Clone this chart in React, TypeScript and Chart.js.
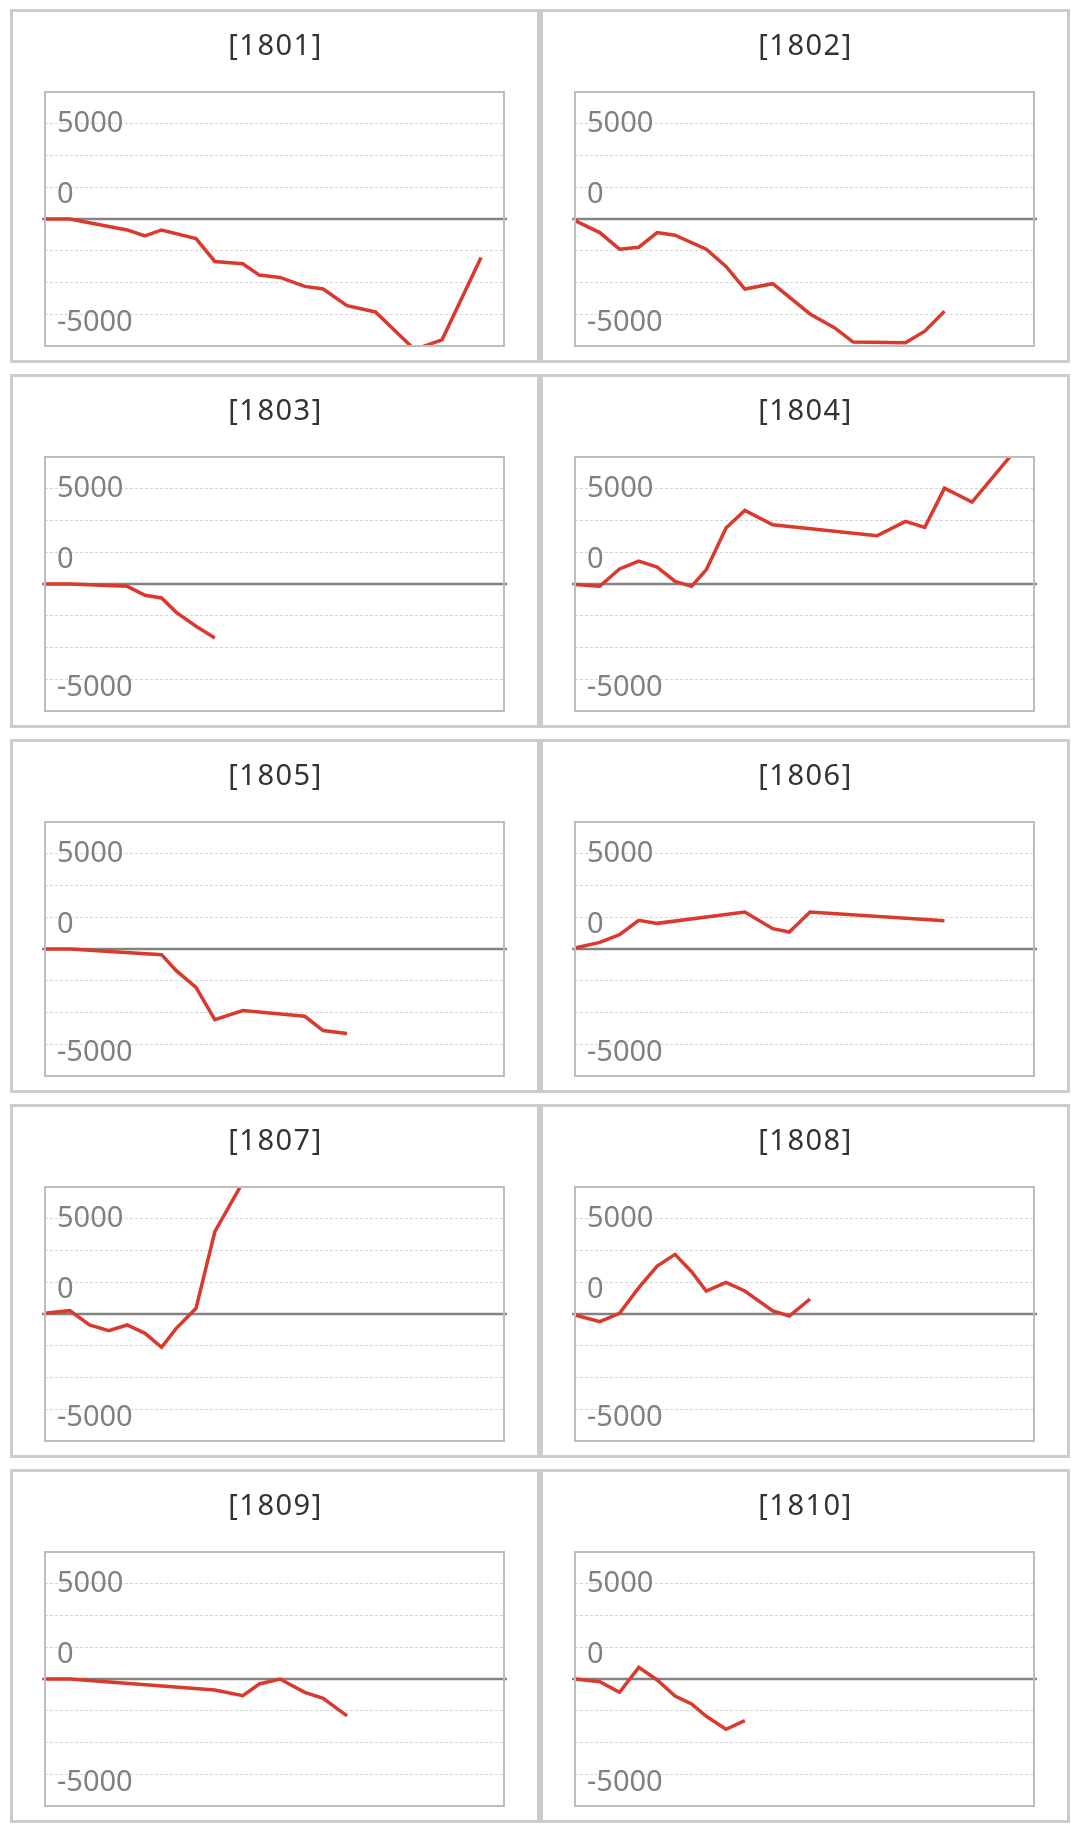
import { useEffect, useRef } from "react"
import { Chart, type ChartConfiguration, type Plugin, registerables } from "chart.js"

Chart.register(...registerables)

// shared time axis (position of each observation along the period, 0..100)
const timeline = [0, 5.4, 9.7, 13.9, 17.9, 21.8, 25.4, 28.6, 32.9, 37.0, 43.1, 46.7, 51.2, 56.6, 60.6, 65.8, 72.0, 76.2, 80.5, 86.5, 95.0]

const panelTitles = ["[1801]", "[1802]", "[1803]", "[1804]", "[1805]", "[1806]", "[1807]", "[1808]", "[1809]", "[1810]"]

const series1801 = [0, 0, null, null, -575, -888, -575, null, -1028, -2230, -2352, -2944, -3066, -3537, -3676, -4547, -4878, null, -6850, -6341, -2021]
const series1802 = [-87, -714, -1585, -1481, -714, -854, null, -1585, -2491, -3676, -3397, null, -4983, -5714, -6463, null, -6500, -5889, -4843]
const series1803 = [0, 0, null, null, -122, -594, -734, -1486, -2220, -2832]
const series1804 = [-30, -122, 787, 1206, 891, 140, -122, 752, 2937, 3863, 3111, null, null, null, null, 2535, 3286, 2972, 5034, 4300, 6750]
const series1805 = [0, 0, null, null, null, null, -297, -1136, -2010, -3706, -3234, null, null, -3531, -4283, -4440]
const series1806 = [52, 350, 752, 1503, 1346, null, null, null, null, 1940, 1066, 891, 1940, null, null, null, null, null, 1486]
const series1807 = [35, 175, -577, -874, -577, -1014, -1748, -752, 297, 4318, 6920]
const series1808 = [-52, -402, 35, 1381, 2517, 3129, 2220, 1206, 1661, 1206, 157, -105, 787]
const series1809 = [0, 0, null, null, null, null, null, null, null, -577, -874, -262, 0, -699, -1014, -1940]
const series1810 = [0, -140, -699, 612, -52, -891, -1311, -1958, -2639, -2185]

const allSeries = [series1801, series1802, series1803, series1804, series1805, series1806, series1807, series1808, series1809, series1810]

const yMin = -20000 / 3
const yMax = 20000 / 3
const yGridValues = [-20000 / 3, -5000, -10000 / 3, -5000 / 3, 5000 / 3, 10000 / 3, 5000, 20000 / 3]
const yTickLabels = [5000, 0, -5000]

// pixel nudges so the labels sit where the original put them
const labelNudge = [0, -24, 8]

const LINE_COLOR = "#d93a2d"
const FONT = "'Noto Sans', 'Noto Sans CJK JP', sans-serif"

const frame: Plugin = {
  id: "frame",
  beforeDatasetsDraw(chart) {
    // zero baseline, a little wider than the plot box
    const { ctx, chartArea } = chart
    const y0 = chart.scales.y.getPixelForValue(0)
    ctx.save()
    ctx.strokeStyle = "#838383"
    ctx.lineWidth = 2.5
    ctx.beginPath()
    ctx.moveTo(chartArea.left - 3, y0)
    ctx.lineTo(chartArea.right + 3, y0)
    ctx.stroke()
    ctx.restore()
  },
  afterDraw(chart) {
    const { ctx, chartArea } = chart
    const y = chart.scales.y
    ctx.save()
    ctx.strokeStyle = "#bdbdbd"
    ctx.lineWidth = 2
    ctx.strokeRect(chartArea.left, chartArea.top, chartArea.right - chartArea.left, chartArea.bottom - chartArea.top)

    ctx.fillStyle = "#808080"
    ctx.font = `29px ${FONT}`
    ctx.textAlign = "left"
    ctx.textBaseline = "middle"
    yTickLabels.forEach((v, i) => {
      ctx.fillText(String(v), chartArea.left + 12, y.getPixelForValue(v) + labelNudge[i])
    })

    // panel title
    const title = (chart.data.datasets[0].label || "") as string
    ctx.fillStyle = "#333"
    ctx.font = `29px ${FONT}`
    ctx.textAlign = "center"
    ;(ctx as any).letterSpacing = "1.5px"
    ctx.fillText(title, (chartArea.left + chartArea.right) / 2 + 1, 35)
    ctx.restore()
  },
}

function Panel({ title, values }: { title: string; values: (number | null)[] }) {
  const chartRef = useRef<HTMLCanvasElement>(null)
  const chartInstanceRef = useRef<Chart | null>(null)

  useEffect(() => {
    if (!chartRef.current) return
    const ctx = chartRef.current.getContext("2d")
    if (!ctx) return

    if (chartInstanceRef.current) {
      chartInstanceRef.current.destroy()
    }

    const points = values.map((v, i) => ({ x: timeline[i], y: v }))

    const config: ChartConfiguration<"line", { x: number; y: number | null }[]> = {
      type: "line",
      data: {
        datasets: [
          {
            label: title,
            data: points,
            borderColor: LINE_COLOR,
            borderWidth: 3.5,
            pointRadius: 0,
            tension: 0,
            spanGaps: true,
            fill: false,
            clip: 1,
          },
        ],
      },
      options: {
        animation: false,
        responsive: true,
        maintainAspectRatio: false,
        layout: {
          padding: { left: 32, right: 33, top: 80, bottom: 14 },
        },
        plugins: {
          legend: { display: false },
          tooltip: { enabled: false },
          title: { display: false },
        },
        scales: {
          x: {
            type: "linear",
            min: 0,
            max: 100,
            display: false,
          },
          y: {
            type: "linear",
            min: yMin,
            max: yMax,
            afterBuildTicks: (scale) => {
              scale.ticks = yGridValues.map((value) => ({ value }))
            },
            ticks: { display: false },
            border: { display: false, dash: [3, 2] },
            grid: {
              drawTicks: false,
              color: "#d6d6d6",
              lineWidth: 1,
            },
          },
        },
      },
      plugins: [frame],
    }

    chartInstanceRef.current = new Chart(ctx, config)

    return () => {
      if (chartInstanceRef.current) {
        chartInstanceRef.current.destroy()
        chartInstanceRef.current = null
      }
    }
  }, [title, values])

  return (
    <div
      style={{
        width: 530,
        height: 354,
        border: "3px solid #cccccc",
        boxSizing: "border-box",
        position: "relative",
        background: "#fff",
      }}
    >
      <canvas ref={chartRef} />
    </div>
  )
}

export default function App() {
  return (
    <div
      style={{
        paddingTop: 1,
        paddingLeft: 2,
        display: "grid",
        gridTemplateColumns: "530px 530px",
        rowGap: 11,
        width: 1060,
      }}
    >
      {panelTitles.map((t, i) => (
        <Panel key={t} title={t} values={allSeries[i]} />
      ))}
    </div>
  )
}
